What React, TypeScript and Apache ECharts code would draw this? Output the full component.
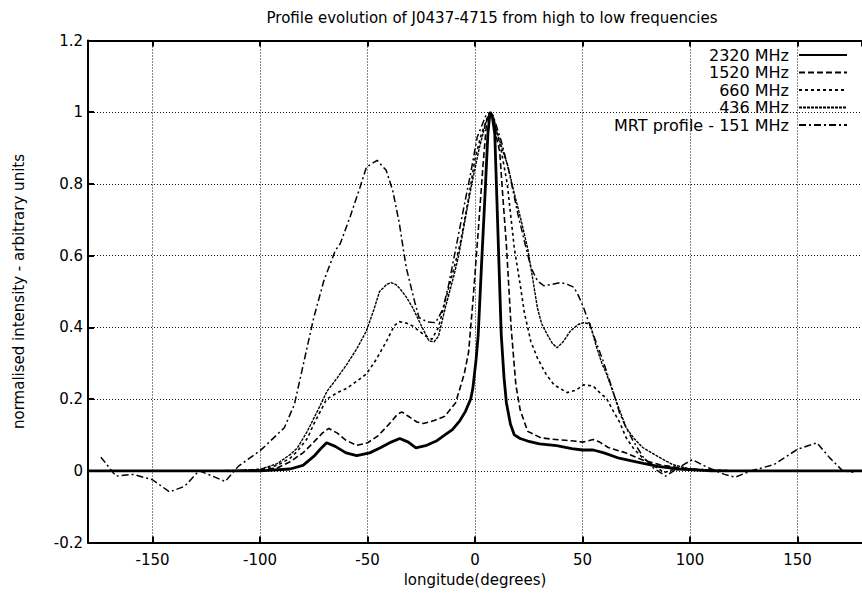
import React, { useEffect, useRef } from "react";
import * as echarts from "echarts";

const titleText = "Profile evolution of J0437-4715 from high to low frequencies";
const xAxisTitle = "longitude(degrees)";
const yAxisTitle = "normalised intensity - arbitrary units";
const seriesNames = ["2320 MHz", "1520 MHz", "660 MHz", "436 MHz", "MRT profile - 151 MHz"];
const xRange = [-180, 180];
const yRange = [-0.2, 1.2];
const yStep = 0.2;

const profile2320: [number, number][] = [
  [-180, 0], [-150, 0], [-120, 0], [-100, 0], [-86, 0.005], [-80, 0.015], [-75, 0.04], [-72, 0.06],
  [-69, 0.078], [-65, 0.068], [-60, 0.05], [-55, 0.042], [-49, 0.05], [-44, 0.064], [-39, 0.08],
  [-35, 0.09], [-31, 0.08], [-27.5, 0.064], [-23, 0.07], [-18, 0.083], [-14, 0.1], [-10.5, 0.115],
  [-7, 0.14], [-4.5, 0.165], [-2, 0.2], [-1, 0.23], [0.5, 0.31], [1.5, 0.38], [3, 0.57], [4.5, 0.75],
  [6, 0.94], [7, 1.0], [8, 0.99], [9.2, 0.94], [10.7, 0.66], [12.2, 0.38], [13.5, 0.26], [14.6, 0.19],
  [16.5, 0.13], [18.3, 0.1], [21, 0.09], [24.5, 0.083], [30, 0.075], [38, 0.07], [45, 0.062],
  [50, 0.058], [55, 0.058], [60, 0.05], [67, 0.035], [75, 0.025], [85, 0.012], [95, 0.005],
  [110, 0], [140, 0], [180, 0],
];

const profile1520: [number, number][] = [
  [-180, 0], [-120, 0], [-100, 0.002], [-92, 0.008], [-86, 0.025], [-80, 0.05], [-75, 0.08],
  [-71, 0.105], [-68, 0.118], [-64, 0.105], [-60, 0.085], [-55, 0.071], [-50, 0.078], [-45, 0.098],
  [-40, 0.13], [-36, 0.158], [-34, 0.164], [-31, 0.152], [-27, 0.136], [-24, 0.132], [-19, 0.14],
  [-14, 0.152], [-9, 0.19], [-5, 0.27], [-3, 0.33], [-1, 0.47], [1.4, 0.66], [3.7, 0.85], [5.5, 0.98],
  [7, 1.0], [8.5, 0.98], [10, 0.93], [11.5, 0.89], [13, 0.76], [14.6, 0.63], [16.8, 0.4], [19, 0.24],
  [21, 0.17], [24.5, 0.11], [30.6, 0.092], [36, 0.088], [42, 0.085], [46, 0.083], [50, 0.08],
  [55, 0.087], [58, 0.08], [62, 0.065], [70, 0.05], [78, 0.03], [86, 0.017], [95, 0.008],
  [110, 0], [140, 0], [180, 0],
];

const profile660: [number, number][] = [
  [-180, 0], [-112, 0], [-100, 0.004], [-92, 0.015], [-86, 0.035], [-82.6, 0.055], [-78, 0.09],
  [-75, 0.13], [-69, 0.2], [-64, 0.218], [-59.6, 0.23], [-55, 0.25], [-50.5, 0.27], [-46, 0.31],
  [-41.3, 0.36], [-37.5, 0.405], [-35.2, 0.416], [-32, 0.412], [-29, 0.404], [-26, 0.39],
  [-23, 0.376], [-20, 0.367], [-17, 0.4], [-13.8, 0.474], [-10, 0.56], [-7, 0.63], [-3, 0.76],
  [0, 0.87], [3, 0.94], [5.5, 0.98], [7, 1.0], [9, 0.97], [12, 0.9], [15, 0.8], [18.3, 0.62],
  [21, 0.52], [23, 0.44], [26, 0.36], [29, 0.315], [33, 0.27], [36.7, 0.24], [42.8, 0.218],
  [47, 0.225], [50.5, 0.24], [55, 0.236], [59, 0.212], [61, 0.204], [64, 0.17], [67.3, 0.135],
  [70.3, 0.092], [74, 0.06], [78, 0.036], [83, 0.015], [88, -0.005], [92, 0.003], [100, 0.004],
  [120, 0], [180, 0],
];

const profile436: [number, number][] = [
  [-180, 0], [-112, 0], [-100, 0.004], [-92, 0.02], [-86, 0.045], [-82.6, 0.064], [-78, 0.11],
  [-73, 0.17], [-68.8, 0.222], [-64, 0.26], [-59.6, 0.297], [-55, 0.34], [-50.5, 0.39], [-47, 0.45],
  [-44.4, 0.5], [-41, 0.52], [-39, 0.525], [-37, 0.52], [-35.2, 0.51], [-32, 0.485], [-29, 0.455],
  [-25, 0.405], [-21.4, 0.362], [-19, 0.36], [-17, 0.375], [-13.8, 0.455], [-10, 0.54], [-7.6, 0.6],
  [-4, 0.72], [-1.5, 0.8], [2, 0.9], [5, 0.97], [7, 1.0], [8.5, 0.99], [10, 0.95], [12.5, 0.9],
  [15.3, 0.85], [18, 0.78], [21.4, 0.7], [24.5, 0.62], [27, 0.53], [29, 0.455], [31, 0.41],
  [33.6, 0.38], [36, 0.355], [38.2, 0.343], [41, 0.36], [44.4, 0.39], [48, 0.408], [50.5, 0.413],
  [53.5, 0.41], [56.6, 0.343], [59, 0.3], [61.2, 0.27], [65.7, 0.194], [70.3, 0.12], [74, 0.09],
  [78, 0.065], [85, 0.04], [92, 0.017], [100, 0.005], [120, 0], [180, 0],
];

const profile151: [number, number][] = [
  [-174, 0.038], [-167, -0.015], [-159, -0.01], [-150, -0.025], [-142, -0.059], [-135, -0.043],
  [-128.4, 0], [-122, -0.015], [-116.2, -0.03], [-110, 0.013], [-99.4, 0.059], [-88.7, 0.12],
  [-84, 0.185], [-79.5, 0.306], [-75, 0.427], [-70.3, 0.53], [-65, 0.614], [-62.7, 0.633],
  [-58, 0.71], [-53.5, 0.79], [-50.5, 0.847], [-45.5, 0.866], [-41.3, 0.838], [-38.2, 0.78],
  [-35.2, 0.69], [-32, 0.567], [-28, 0.47], [-26, 0.427], [-22, 0.415], [-18.3, 0.413], [-15, 0.45],
  [-12.2, 0.52], [-6.1, 0.707], [-2, 0.83], [1, 0.93], [5, 0.99], [7, 1.0], [9, 0.98], [12.2, 0.92],
  [16, 0.83], [19.9, 0.717], [23, 0.64], [26, 0.567], [29, 0.53], [32, 0.516], [36, 0.52],
  [39.7, 0.525], [43, 0.52], [45.9, 0.512], [48, 0.49], [50.5, 0.455], [55, 0.38], [59.6, 0.306],
  [64.2, 0.222], [67.3, 0.16], [70.3, 0.12], [73.4, 0.085], [78, 0.04], [83, 0.008], [88.7, -0.015],
  [95, 0.01], [101, 0.031], [108, 0.01], [116, -0.01], [121, -0.018], [128.4, 0], [139, 0.017],
  [150, 0.06], [159, 0.078], [165, 0.036], [171, 0], [176, -0.004],
];

const seriesData = [profile2320, profile1520, profile660, profile436, profile151];

export default function App() {
  const ref = useRef<HTMLDivElement>(null);

  useEffect(() => {
    if (!ref.current) return;
    const chart = echarts.init(ref.current, null, { renderer: "svg" });
    const font = "'DejaVu Sans', sans-serif";
    const lineStyles: any[] = [
      { width: 2.8, type: "solid" },
      { width: 1.6, type: [6, 3] },
      { width: 1.6, type: [3, 3] },
      { width: 1.4, type: [3, 1] },
      { width: 1.5, type: [7, 3, 2, 3] },
    ];
    const zs = [10, 9, 8, 7, 6];
    const gridLine = { show: true, lineStyle: { color: "#111", width: 1, type: [1, 2] } };

    chart.setOption({
      animation: false,
      backgroundColor: "#fff",
      title: {
        text: titleText,
        left: 487,
        top: 5,
        textAlign: "center",
        textStyle: { fontFamily: font, fontSize: 15, fontWeight: "normal", color: "#000" },
      },
      legend: {
        data: seriesNames,
        orient: "vertical",
        align: "right",
        right: 9,
        top: 42,
        padding: 5,
        itemWidth: 48,
        itemHeight: 14,
        itemGap: 1.5,
        selectedMode: false,
        itemStyle: { opacity: 0 },
        textStyle: { fontFamily: font, fontSize: 16, color: "#000", padding: [0, 5, 0, 0] },
      },
      grid: { left: 88, top: 40.5, width: 784, bottom: 54.5, containLabel: false },
      xAxis: [
        {
          type: "value",
          min: xRange[0],
          max: xRange[1],
          splitNumber: 7,
          name: xAxisTitle,
          nameLocation: "middle",
          nameGap: 29,
          nameTextStyle: { fontFamily: font, fontSize: 15, color: "#000" },
          axisLine: { show: true, onZero: false, lineStyle: { color: "#000", width: 2 } },
          axisTick: { show: true, inside: true, length: 6, lineStyle: { color: "#000", width: 2 } },
          axisLabel: {
            showMinLabel: false,
            showMaxLabel: false,
            margin: 10,
            fontFamily: font,
            fontSize: 15,
            color: "#000",
          },
          splitLine: gridLine,
        },
        {
          type: "value",
          position: "top",
          min: xRange[0],
          max: xRange[1],
          splitNumber: 7,
          axisLine: { show: true, onZero: false, lineStyle: { color: "#000", width: 2 } },
          axisTick: { show: true, inside: true, length: 6, lineStyle: { color: "#000", width: 2 } },
          axisLabel: { show: false },
          splitLine: { show: false },
        },
      ],
      yAxis: {
        type: "value",
        min: yRange[0],
        max: yRange[1],
        interval: yStep,
        name: yAxisTitle,
        nameLocation: "middle",
        nameGap: 62,
        nameTextStyle: { fontFamily: font, fontSize: 15, color: "#000" },
        axisLine: { show: true, onZero: false, lineStyle: { color: "#000", width: 2 } },
        axisTick: { show: true, inside: true, length: 6, lineStyle: { color: "#000", width: 2 } },
        axisLabel: { margin: 5, fontFamily: font, fontSize: 15, color: "#000" },
        splitLine: gridLine,
      },
      series: seriesNames.map((name, i) => ({
        name,
        type: "line",
        xAxisIndex: 0,
        data: seriesData[i],
        symbol: "none",
        showSymbol: false,
        silent: true,
        z: zs[i],
        color: "#000",
        itemStyle: { color: "#000" },
        lineStyle: { color: "#000", ...lineStyles[i] },
        emphasis: { disabled: true },
      })),
    });

    return () => chart.dispose();
  }, []);

  return (
    <div
      ref={ref}
      style={{ position: "absolute", left: 0, top: 0, width: 862, height: 597, background: "#fff" }}
    />
  );
}
